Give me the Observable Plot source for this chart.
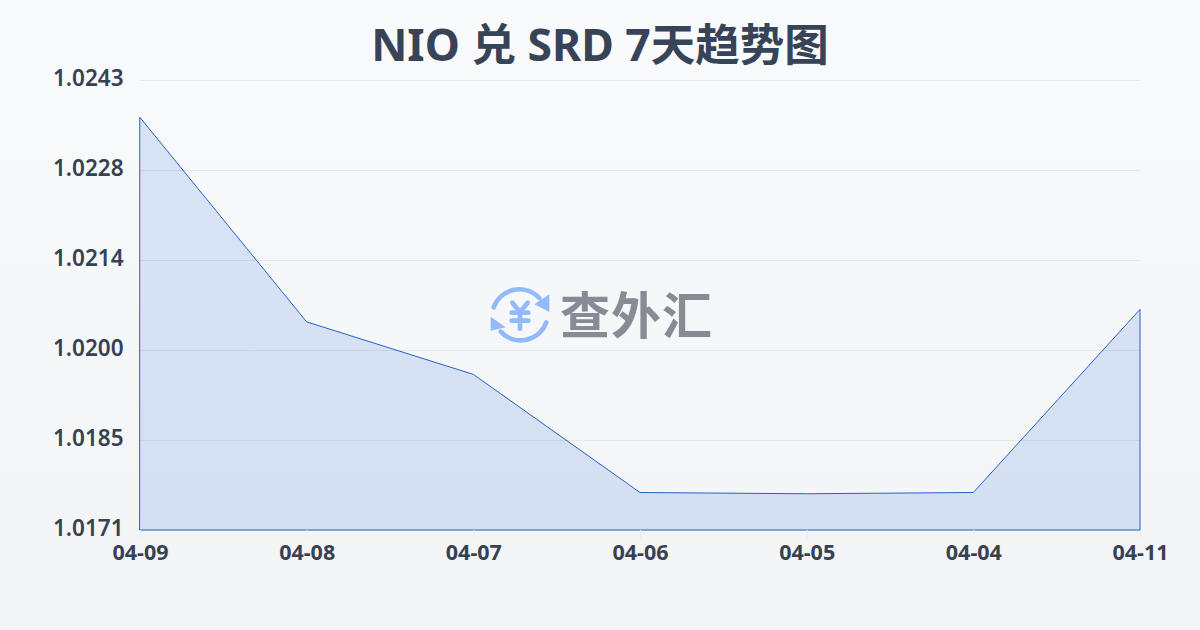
<!DOCTYPE html>
<html><head><meta charset="utf-8">
<script src="https://cdn.jsdelivr.net/npm/d3@7"></script>
<script src="https://cdn.jsdelivr.net/npm/@observablehq/plot@0.6"></script>
<style>
html,body{margin:0;padding:0}
body{width:1200px;height:630px;overflow:hidden;position:relative;background:linear-gradient(180deg,#f8fafc 0%,#f3f4f6 100%);font-family:"Noto Sans","Noto Sans CJK SC",sans-serif}
#title{position:absolute;left:0;top:0;width:1200px;height:70px;line-height:88px;text-align:center;font-size:44.5px;font-weight:700;color:#374357;white-space:nowrap}
#chart{position:absolute;left:0;top:70px}
#logo{position:absolute;left:470px;top:270px;width:260px;height:90px}
#logotext{position:absolute;left:560px;top:277px;font:700 50px/70px "Noto Sans CJK SC",sans-serif;color:#868b94;white-space:nowrap;letter-spacing:1px}
svg text{font-family:"Noto Sans","Noto Sans CJK SC",sans-serif}
</style></head><body>
<div id="title">NIO 兑 SRD 7天趋势图</div>
<div id="chart"></div>
<svg id="logo" viewBox="0 0 780 270">
  <g fill="none" stroke="#93baf8" stroke-width="14" stroke-linecap="round">
    <path d="M71 112 A82 82 0 0 1 208 84"/>
    <path d="M229 157 A82 82 0 0 1 92 185"/>
    <path d="M127 98 L150 126 L173 98 M150 126 V176 M125 128 H175 M125 152 H175"/>
  </g>
  <path d="M238 73 L238 126 L193 103 Z M62 140 L62 182 L107 172 Z" fill="#93baf8"/>
</svg>
<div id="logotext">查外汇</div>
<script>
const dates = ["04-09","04-08","04-07","04-06","04-05","04-04","04-11"];
const rates = [1.02370,1.02043,1.01959,1.01770,1.01768,1.01770,1.02063];
const yTicks = [1.0171,1.01854,1.01998,1.02142,1.02286,1.0243];
const yLabels = ["1.0171","1.0185","1.0200","1.0214","1.0228","1.0243"];
const rows = dates.map((d,i)=>({date:d,rate:rates[i]}));
const chart = Plot.plot({
  width:1200,height:560,
  marginTop:10,marginBottom:100,marginLeft:140,marginRight:60,
  style:{background:"transparent",overflow:"visible"},
  x:{type:"point",domain:dates,padding:0,round:false,label:null},
  y:{domain:[yTicks[0],yTicks[5]],label:null},
  marks:[
    Plot.gridY(yTicks,{stroke:"#e5e7eb",strokeOpacity:1,strokeWidth:1}),
    Plot.areaY(rows,{x:"date",y1:yTicks[0],y2:"rate",fill:"#2a62d4",fillOpacity:0.15,stroke:"#2660c8",strokeWidth:1}),
    Plot.axisX({tickSize:8,tickPadding:6,fontSize:21.5,fontWeight:700,color:"#374151",stroke:"#e9ebef",label:null}),
    Plot.axisY({ticks:yTicks,tickFormat:(d,i)=>yLabels[i],tickSize:0,tickPadding:17,fontSize:22.5,fontWeight:600,color:"#374151",label:null,textAnchor:"end",dy:-2})
  ]
});
document.getElementById("chart").append(chart);
</script></body></html>
